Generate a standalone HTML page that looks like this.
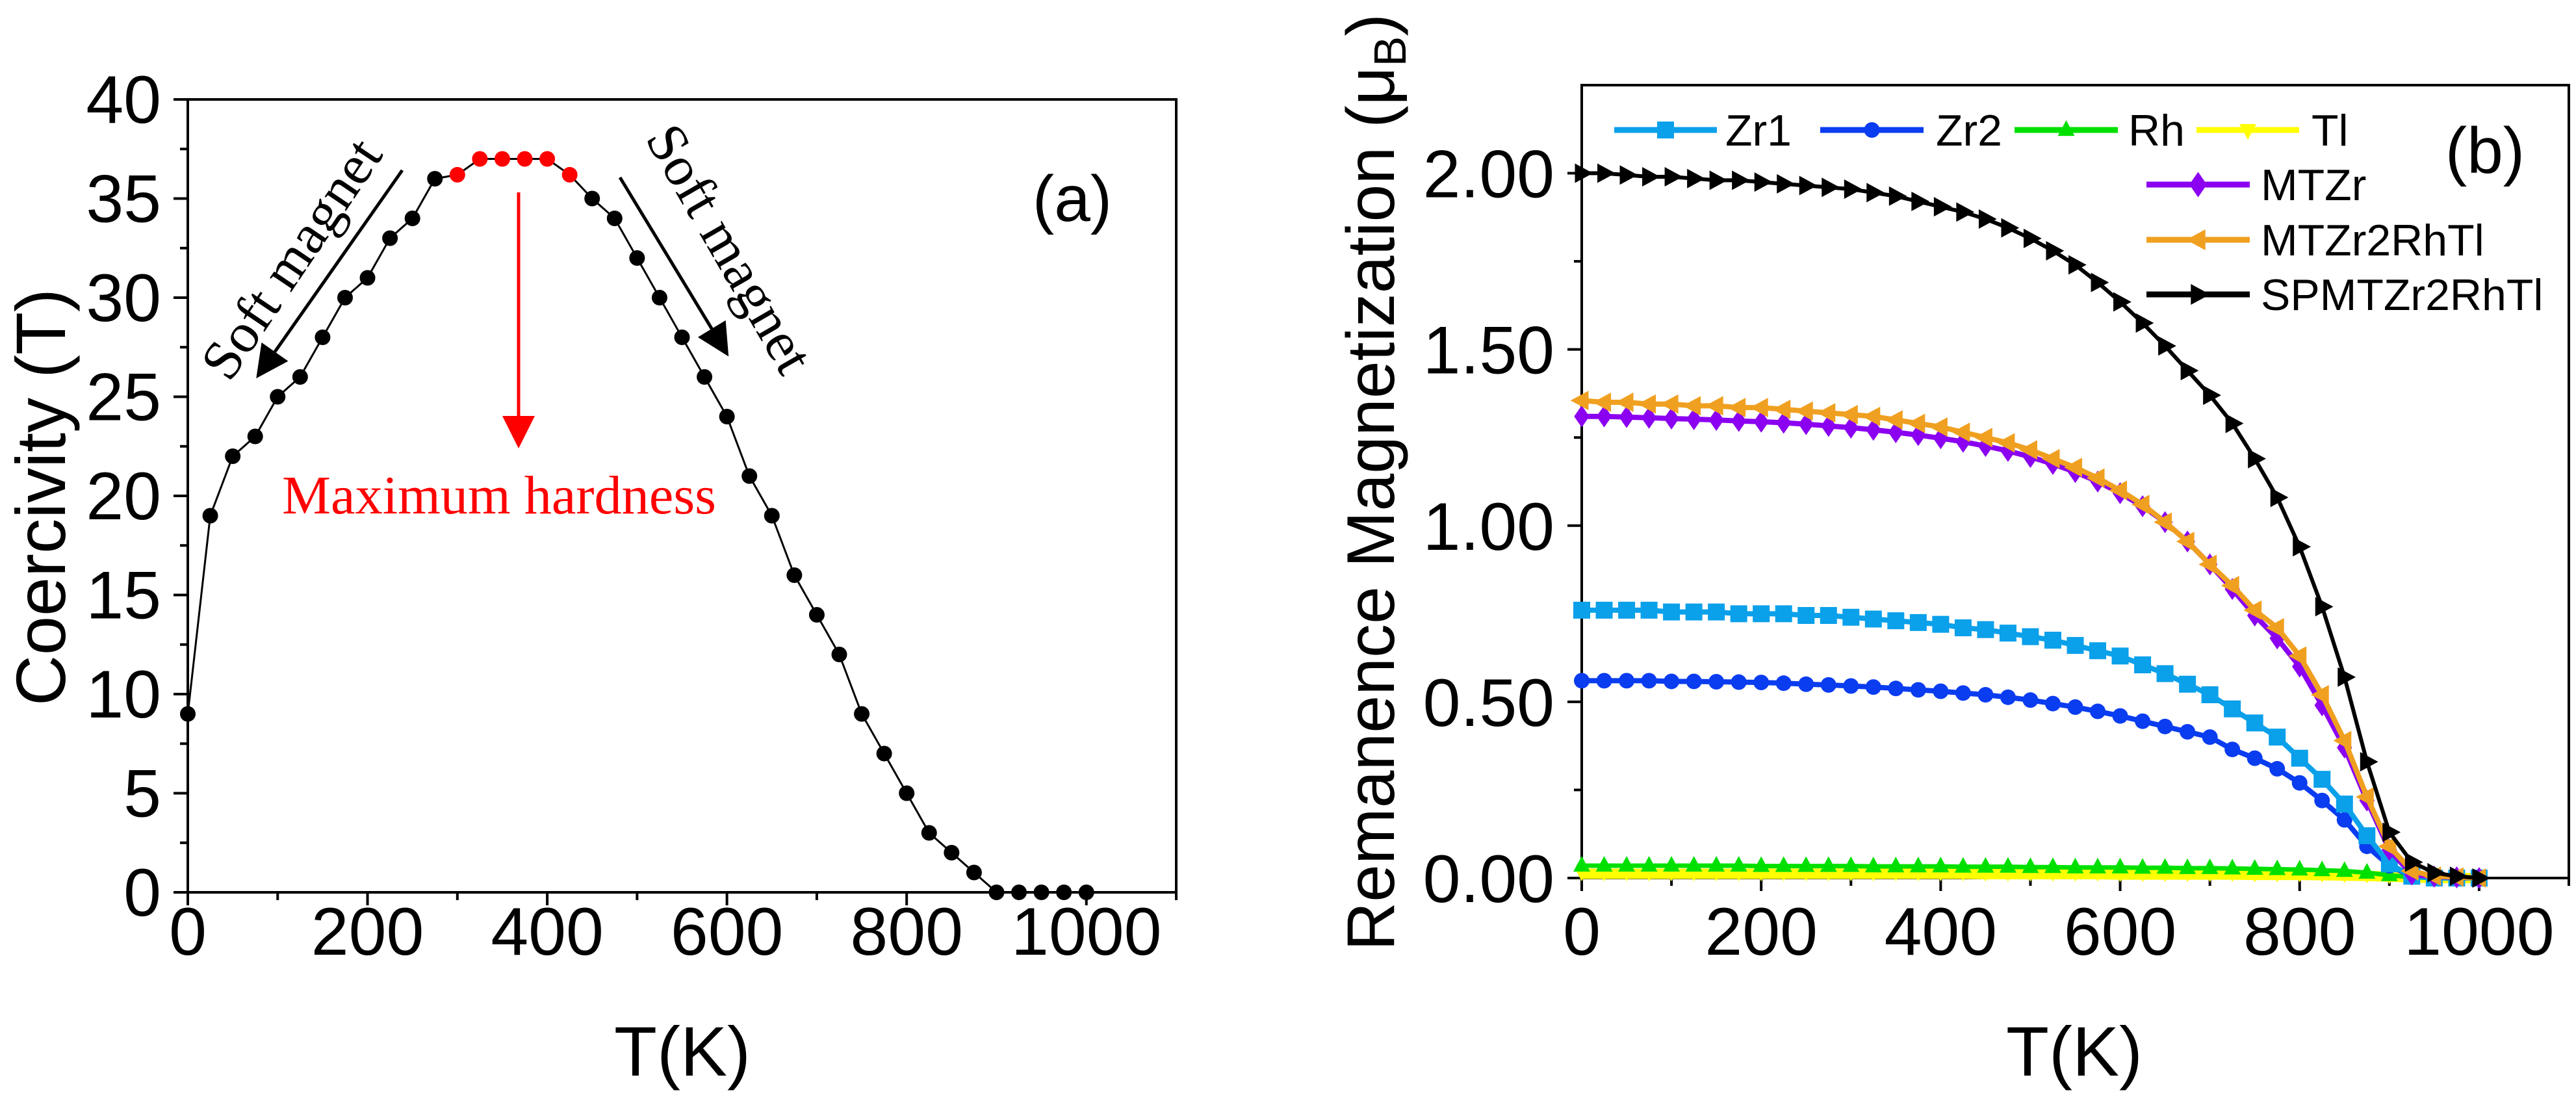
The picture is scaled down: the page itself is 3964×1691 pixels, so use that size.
<!DOCTYPE html>
<html><head><meta charset="utf-8"><style>
html,body{margin:0;padding:0;background:#fff;}
svg{display:block;}
text{font-family:"Liberation Sans",Arial,sans-serif;}
.serif{font-family:"Liberation Serif","Times New Roman",serif;}
</style></head><body>
<svg id="fig" width="3964" height="1691" viewBox="0 0 3964 1691" xmlns="http://www.w3.org/2000/svg">
<defs>
<marker id="ahB" markerWidth="10" markerHeight="10" refX="8" refY="5" orient="auto" markerUnits="strokeWidth"><path d="M0,0 L10,5 L0,10 z" fill="#000"/></marker>
<marker id="ahR" markerWidth="10" markerHeight="10" refX="8" refY="5" orient="auto" markerUnits="strokeWidth"><path d="M0,0 L10,5 L0,10 z" fill="#f00"/></marker>
</defs>
<g id="panelA"></g>
<g id="panelB"></g>
</svg>
<script>
// ---------- Panel (a) data ----------
const tempsA = [0,25,50,75,100,125,150,175,200,225,250,275,300,325,350,375,400,425,450,475,500,525,550,575,600,625,650,675,700,725,750,775,800,825,850,875,900,925,950,975,1000];
const coercivity = [9,19,22,23,25,26,28,30,31,33,34,36,36.2,37,37,37,37,36.2,35,34,32,30,28,26,24,21,19,16,14,12,9,7,5,3,2,1,0,0,0,0,0];
const redTemps = [300,325,350,375,400,425];
const xTicksA = [0,200,400,600,800,1000];
const yTicksA = [0,5,10,15,20,25,30,35,40];

// ---------- Panel (b) data ----------
const tempsB = [0,25,50,75,100,125,150,175,200,225,250,275,300,325,350,375,400,425,450,475,500,525,550,575,600,625,650,675,700,725,750,775,800,825,850,875,900,925,950,975,1000];
const zr1 = [0.76,0.76,0.76,0.76,0.755,0.755,0.755,0.75,0.75,0.75,0.745,0.745,0.74,0.735,0.73,0.725,0.72,0.71,0.705,0.695,0.685,0.675,0.66,0.645,0.63,0.605,0.58,0.55,0.52,0.48,0.44,0.40,0.34,0.28,0.21,0.12,0.04,0.005,0,0,0];
const zr2 = [0.56,0.56,0.56,0.56,0.558,0.558,0.557,0.556,0.555,0.553,0.55,0.548,0.545,0.542,0.538,0.534,0.53,0.525,0.52,0.513,0.505,0.495,0.485,0.473,0.46,0.445,0.43,0.415,0.40,0.365,0.34,0.31,0.27,0.22,0.165,0.09,0.035,0.005,0,0,0];
const rh = [0.035,0.035,0.035,0.035,0.035,0.035,0.035,0.035,0.034,0.034,0.034,0.034,0.034,0.033,0.033,0.033,0.033,0.032,0.032,0.032,0.031,0.031,0.03,0.03,0.03,0.029,0.029,0.028,0.028,0.027,0.026,0.025,0.024,0.022,0.02,0.015,0.008,0.002,0,0,0];
const tl = [0.012,0.012,0.012,0.012,0.012,0.012,0.012,0.012,0.012,0.012,0.012,0.012,0.012,0.012,0.012,0.012,0.012,0.012,0.011,0.011,0.011,0.011,0.011,0.011,0.01,0.01,0.01,0.01,0.01,0.01,0.009,0.009,0.009,0.008,0.007,0.006,0.004,0.002,0,0,0];
const mtzr = [1.31,1.31,1.308,1.306,1.304,1.302,1.30,1.297,1.295,1.292,1.288,1.283,1.278,1.272,1.265,1.257,1.248,1.238,1.226,1.212,1.195,1.175,1.152,1.125,1.092,1.055,1.01,0.955,0.89,0.82,0.745,0.68,0.60,0.49,0.37,0.22,0.08,0.01,0.004,0.002,0];
const mtzr2rhtl = [1.355,1.35,1.35,1.345,1.345,1.34,1.34,1.335,1.335,1.33,1.325,1.32,1.315,1.31,1.30,1.29,1.28,1.265,1.25,1.235,1.215,1.19,1.165,1.135,1.10,1.06,1.01,0.955,0.89,0.83,0.76,0.71,0.63,0.52,0.39,0.23,0.09,0.02,0.005,0.003,0];
const spmt = [2.00,2.00,1.995,1.99,1.99,1.985,1.98,1.98,1.975,1.97,1.965,1.96,1.955,1.945,1.935,1.92,1.905,1.89,1.87,1.845,1.815,1.78,1.74,1.69,1.635,1.575,1.51,1.44,1.37,1.29,1.19,1.08,0.94,0.77,0.57,0.33,0.13,0.045,0.015,0.005,0];
const xTicksB = [0,200,400,600,800,1000];
const yTicksB = [0,0.5,1.0,1.5,2.0];
const yTickLabelsB = ["0.00","0.50","1.00","1.50","2.00"];
const seriesNamesB = ["Zr1","Zr2","Rh","Tl","MTZr","MTZr2RhTl","SPMTZr2RhTl"];

const NS = "http://www.w3.org/2000/svg";
function mk(tag, attrs, parent){ const e=document.createElementNS(NS,tag); for(const k in attrs) e.setAttribute(k,attrs[k]); parent.appendChild(e); return e; }

// ---------- Panel (a) ----------
const gA = document.getElementById('panelA');
const A = {l:289,r:1810,t:153,b:1373,xmax:1100,ymax:40};
const xA = v => A.l + v/A.xmax*(A.r-A.l);
const yA = v => A.b - v/A.ymax*(A.b-A.t);

let frameA = mk('rect',{x:A.l,y:A.t,width:A.r-A.l,height:A.b-A.t,fill:'none',stroke:'#000','stroke-width':4},gA);


for(let v=0; v<=1100; v+=100){
  const major = v%200===0;
  let t = mk('line',{x1:xA(v),x2:xA(v),y1:A.b,y2:A.b+(major?20:12),stroke:'#000','stroke-width':4},gA);
  
  
}
xTicksA.forEach(v=>{
  let t = mk('text',{x:xA(v),y:1469,'font-size':104,'text-anchor':'middle'},gA); t.textContent=v;
  
  
});
for(let v=0; v<=40; v+=2.5){
  const major = v%5===0;
  let t = mk('line',{x1:A.l-(major?22:12),x2:A.l,y1:yA(v),y2:yA(v),stroke:'#000','stroke-width':4},gA);
  
  
}
yTicksA.forEach(v=>{
  let t = mk('text',{x:248,y:yA(v)+36,'font-size':104,'text-anchor':'end'},gA); t.textContent=v;
  
  
});
let xtA = mk('text',{x:1050,y:1655,'font-size':108,'text-anchor':'middle'},gA); xtA.textContent='T(K)';


let ytA = mk('text',{x:0,y:0,'font-size':108,'text-anchor':'middle',transform:'translate(100,765) rotate(-90)'},gA); ytA.textContent='Coercivity (T)';



let lineA = mk('polyline',{points:tempsA.map((t,i)=>xA(t)+','+yA(coercivity[i])).join(' '),fill:'none',stroke:'#000','stroke-width':3},gA);


tempsA.forEach((t,i)=>{
  const red = redTemps.includes(t);
  let c = mk('circle',{cx:xA(t),cy:yA(coercivity[i]),r:12,fill:red?'#f00':'#000'},gA);
  
  
});
let la = mk('text',{x:1650,y:340,'font-size':100,'text-anchor':'middle'},gA); la.textContent='(a)';


// annotations
let ar1 = mk('line',{x1:619,y1:262,x2:400,y2:574,stroke:'#000','stroke-width':5,'marker-end':'url(#ahB)'},gA);


let ar2 = mk('line',{x1:954,y1:273,x2:1116,y2:540,stroke:'#000','stroke-width':5,'marker-end':'url(#ahB)'},gA);


let ar3 = mk('line',{x1:798,y1:296,x2:798,y2:680,stroke:'#f00','stroke-width':5,'marker-end':'url(#ahR)'},gA);


let s1 = mk('text',{class:'serif','font-size':86,'text-anchor':'middle',textLength:425,lengthAdjust:'spacingAndGlyphs',transform:'translate(472,414) rotate(-56)'},gA); s1.textContent='Soft magnet';


let s2 = mk('text',{class:'serif','font-size':86,'text-anchor':'middle',textLength:425,lengthAdjust:'spacingAndGlyphs',transform:'translate(1098,397) rotate(60)'},gA); s2.textContent='Soft magnet';


let mh = mk('text',{class:'serif',x:434,y:790,'font-size':84,fill:'#f00',textLength:668,lengthAdjust:'spacingAndGlyphs'},gA); mh.textContent='Maximum hardness';



// ---------- Panel (b) ----------
const gB = document.getElementById('panelB');
const B = {l:2434,r:3953,t:131,b:1351,xmax:1100,ymax:2.25};
const xB = v => B.l + v/B.xmax*(B.r-B.l);
const yB = v => B.b - v/B.ymax*(B.b-B.t);

let frameB = mk('rect',{x:B.l,y:B.t,width:B.r-B.l,height:B.b-B.t,fill:'none',stroke:'#000','stroke-width':4},gB);


for(let v=0; v<=1100; v+=100){
  const major = v%200===0;
  let t = mk('line',{x1:xB(v),x2:xB(v),y1:B.b,y2:B.b+(major?20:12),stroke:'#000','stroke-width':4},gB);
  
  
}
xTicksB.forEach(v=>{
  let t = mk('text',{x:xB(v),y:1469,'font-size':104,'text-anchor':'middle'},gB); t.textContent=v;
  
  
});
for(let v=0; v<=2.0001; v+=0.25){
  const major = Math.abs(v*2-Math.round(v*2))<1e-6;
  let t = mk('line',{x1:B.l-(major?22:12),x2:B.l,y1:yB(v),y2:yB(v),stroke:'#000','stroke-width':4},gB);
  
  
}
yTicksB.forEach((v,i)=>{
  let t = mk('text',{x:2392,y:yB(v)+37,'font-size':104,'text-anchor':'end'},gB); t.textContent=yTickLabelsB[i];
  
  
});
let xtB = mk('text',{x:3192,y:1655,'font-size':108,'text-anchor':'middle'},gB); xtB.textContent='T(K)';


let ytB = mk('text',{x:0,y:0,'font-size':104,'text-anchor':'middle',transform:'translate(2145,742) rotate(-90)'},gB);


ytB.appendChild(document.createTextNode('Remanence Magnetization (μ'));
let sub = mk('tspan',{'font-size':70,dy:18},ytB); sub.textContent='B';
let cl = mk('tspan',{dy:-18},ytB); cl.textContent=')';

function markerPath(type,x,y,s){
  switch(type){
    case 'square': return `M${x-s},${y-s}h${2*s}v${2*s}h${-2*s}z`;
    case 'circle': return `M${x-s},${y}a${s},${s} 0 1,0 ${2*s},0a${s},${s} 0 1,0 ${-2*s},0z`;
    case 'up': return `M${x},${y-s*1.15}L${x+s},${y+s*0.7}L${x-s},${y+s*0.7}z`;
    case 'down': return `M${x},${y+s*1.15}L${x+s},${y-s*0.7}L${x-s},${y-s*0.7}z`;
    case 'diamond': return `M${x},${y-s*1.3}L${x+s*0.9},${y}L${x},${y+s*1.3}L${x-s*0.9},${y}z`;
    case 'left': return `M${x-s*1.15},${y}L${x+s*0.7},${y-s}L${x+s*0.7},${y+s}z`;
    case 'right': return `M${x+s*1.15},${y}L${x-s*0.7},${y-s}L${x-s*0.7},${y+s}z`;
  }
}
const seriesB = [
  {name:'tl',vals:tl,color:'#ffff00',m:'down',w:16,s:10},
  {name:'rh',vals:rh,color:'#00e000',m:'up',w:7,s:13},
  {name:'zr2',vals:zr2,color:'#0a3cf0',m:'circle',w:8,s:12},
  {name:'zr1',vals:zr1,color:'#0aa0ea',m:'square',w:8,s:13},
  {name:'mtzr',vals:mtzr,color:'#8b00f0',m:'diamond',w:8,s:13},
  {name:'mtzr2rhtl',vals:mtzr2rhtl,color:'#f0a020',m:'left',w:8,s:15},
  {name:'spmtzr2rhtl',vals:spmt,color:'#000000',m:'right',w:6,s:15}
];
seriesB.forEach(sr=>{
  let g = mk('g',{},gB);
  
  
  let pl = mk('polyline',{points:tempsB.map((t,i)=>xB(t)+','+yB(sr.vals[i])).join(' '),fill:'none',stroke:sr.color,'stroke-width':sr.w,'stroke-linejoin':'round'},g);
  
  
  tempsB.forEach((t,i)=>{
    let p = mk('path',{d:markerPath(sr.m,xB(t),yB(sr.vals[i]),sr.s),fill:sr.color},g);
    
    
  });
});
// legend
const legendItems = [
  {label:'Zr1',color:'#0aa0ea',m:'square',x1:2484,x2:2642,y:200,tx:2655,s:13},
  {label:'Zr2',color:'#0a3cf0',m:'circle',x1:2801,x2:2960,y:200,tx:2979,s:12},
  {label:'Rh',color:'#00e000',m:'up',x1:3100,x2:3259,y:200,tx:3275,s:13},
  {label:'Tl',color:'#ffff00',m:'down',x1:3380,x2:3538,y:200,tx:3557,s:13},
  {label:'MTZr',color:'#8b00f0',m:'diamond',x1:3303,x2:3462,y:284,tx:3479,s:15},
  {label:'MTZr2RhTl',color:'#f0a020',m:'left',x1:3303,x2:3462,y:369,tx:3479,s:16},
  {label:'SPMTZr2RhTl',color:'#000000',m:'right',x1:3303,x2:3462,y:453,tx:3479,s:16}
];
const legG = mk('g',{},gB);


legendItems.forEach(it=>{
  let g = mk('g',{},legG);
  
  
  mk('line',{x1:it.x1,x2:it.x2,y1:it.y,y2:it.y,stroke:it.color,'stroke-width':9},g);
  mk('path',{d:markerPath(it.m,(it.x1+it.x2)/2,it.y,it.s),fill:it.color},g);
  let t = mk('text',{x:it.tx,y:it.y+24,'font-size':68},g); t.textContent=it.label;
});
let lb = mk('text',{x:3824,y:266,'font-size':100,'text-anchor':'middle'},gB); lb.textContent='(b)';


</script>
</body></html>
